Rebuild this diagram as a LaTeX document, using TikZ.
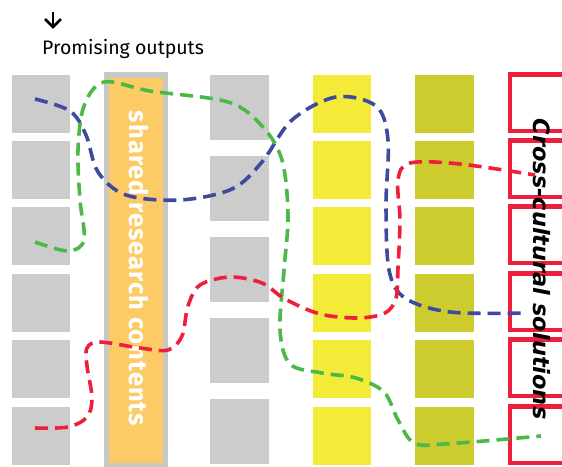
\documentclass[tikz,border=0pt]{standalone}
\usepackage{fontspec}
\usetikzlibrary{calc}
\setmainfont{Fira Sans}
\newfontfamily\verafont{DejaVu Sans}
\newfontfamily\barfont[LetterSpace=4]{Fira Sans}
\definecolor{sqgrey}{HTML}{CCCCCC}
\definecolor{bargrey}{HTML}{C8C8C8}
\definecolor{barorange}{HTML}{FDCB66}
\definecolor{sqyellow}{HTML}{F3EB38}
\definecolor{sqolive}{HTML}{CCCC2E}
\definecolor{boxred}{HTML}{EE1F3D}
\definecolor{pathblue}{HTML}{3F4A9E}
\definecolor{pathgreen}{HTML}{4CB848}
\definecolor{pathred}{HTML}{EE1F3D}
\tikzset{
  sq/.style={inner sep=0pt, outer sep=0pt, draw=none, anchor=north west,
             minimum width=58pt, minimum height=58pt},
  greysq/.style={sq, fill=sqgrey},
  tallsq/.style={sq, fill=sqgrey, minimum width=59pt, minimum height=65pt},
  yellowsq/.style={sq, fill=sqyellow},
  olivesq/.style={sq, fill=sqolive, minimum width=59pt},
  redbox/.style={draw=boxred, line width=4.6pt, fill=none},
  wander/.style={line width=3.6pt, dash pattern=on 13pt off 7pt},
  arrowline/.style={line width=2.6pt, draw=black}
}
\begin{document}
\begin{tikzpicture}[x=1pt, y=-1pt]
\useasboundingbox (0,0) rectangle (562,466);
\clip (0,0) rectangle (562,466);

% heading with downward arrow
\coordinate (atop) at (53,12);
\coordinate (atip) at (53,27);
\draw[arrowline] (atop) -- (atip);
\draw[arrowline, line join=miter] ($(atip)+(-8,-8)$) -- (atip) -- ($(atip)+(8,-8)$);
\node[anchor=base west, inner sep=0pt, font=\fontsize{19.5}{22}\selectfont] (head) at (42,54) {Promising outputs};

% column 1: grey squares
\foreach \t [count=\i] in {75,141,207,274,340,407}
  \node[greysq] (c1-\i) at (12,\t) {};

% column 2: shared research bar
\node[inner sep=0pt, outer sep=0pt, fill=bargrey, anchor=north west,
      minimum width=64pt, minimum height=400pt] (bar) at (104,72) {};
\node[inner sep=0pt, outer sep=0pt, fill=barorange, anchor=north west,
      minimum width=54pt, minimum height=385pt] (barin) at (109,78) {};
\node[rotate=-90, anchor=base, inner sep=0pt, text=white,
      font=\barfont\bfseries\fontsize{25.5}{28}\selectfont] (shared) at (129,268.5)
      {shared research contents};

% column 3: taller grey squares
\foreach \t [count=\i] in {75,156,237,318,399}
  \node[tallsq] (c3-\i) at (210,\t) {};

% column 4: yellow squares
\foreach \t [count=\i] in {75,141,207,274,340,407}
  \node[yellowsq] (c4-\i) at (313,\t) {};

% column 5: olive squares
\foreach \t [count=\i] in {75,141,207,274,340,407}
  \node[olivesq] (c5-\i) at (415,\t) {};

% column 6: red outlined boxes
\foreach \t in {75,141,207,274,340,407}
  \draw[redbox] (510,\t-0.8) rectangle (590,\t+56);
\node[rotate=-90, anchor=base, inner sep=0pt, text=black,
      font=\verafont\bfseries\itshape\fontsize{22.5}{25}\selectfont] (cross) at (533,269)
      {Cross-cultural solutions};

% wandering dashed paths
\coordinate (b0) at (35,99);   \coordinate (b1) at (527,313);
\coordinate (g0) at (35,242);  \coordinate (g1) at (541,436);
\coordinate (r0) at (35,428);  \coordinate (r1) at (535,175);

\draw[wander, pathblue] plot[smooth, tension=0.55] coordinates {
  (b0) (70,111) (86,135) (98,172) (126,195) (180,200) (232,189) (262,162)
  (292,120) (336,97) (376,106) (388,140) (386,205) (389,270) (405,298)
  (450,312) (b1)};

\draw[wander, pathgreen] plot[smooth, tension=0.55] coordinates {
  (g0) (68,251) (84,240) (80,200) (78,150) (84,106) (104,82) (150,91)
  (228,102) (262,126) (282,160) (288,215) (284,270) (280,330) (290,364)
  (322,373) (356,378) (384,392) (398,420) (414,443) (445,444) (g1)};

\draw[wander, pathred] plot[smooth, tension=0.55] coordinates {
  (r0) (68,427) (87,417) (92,398) (87,366) (87,348) (100,342) (140,348)
  (168,350) (182,336) (188,306) (200,285) (230,277) (262,283) (285,299)
  (320,314) (358,318) (385,313) (396,298) (398,268) (400,220) (398,180)
  (410,163) (460,164) (r1)};
\end{tikzpicture}
\end{document}
